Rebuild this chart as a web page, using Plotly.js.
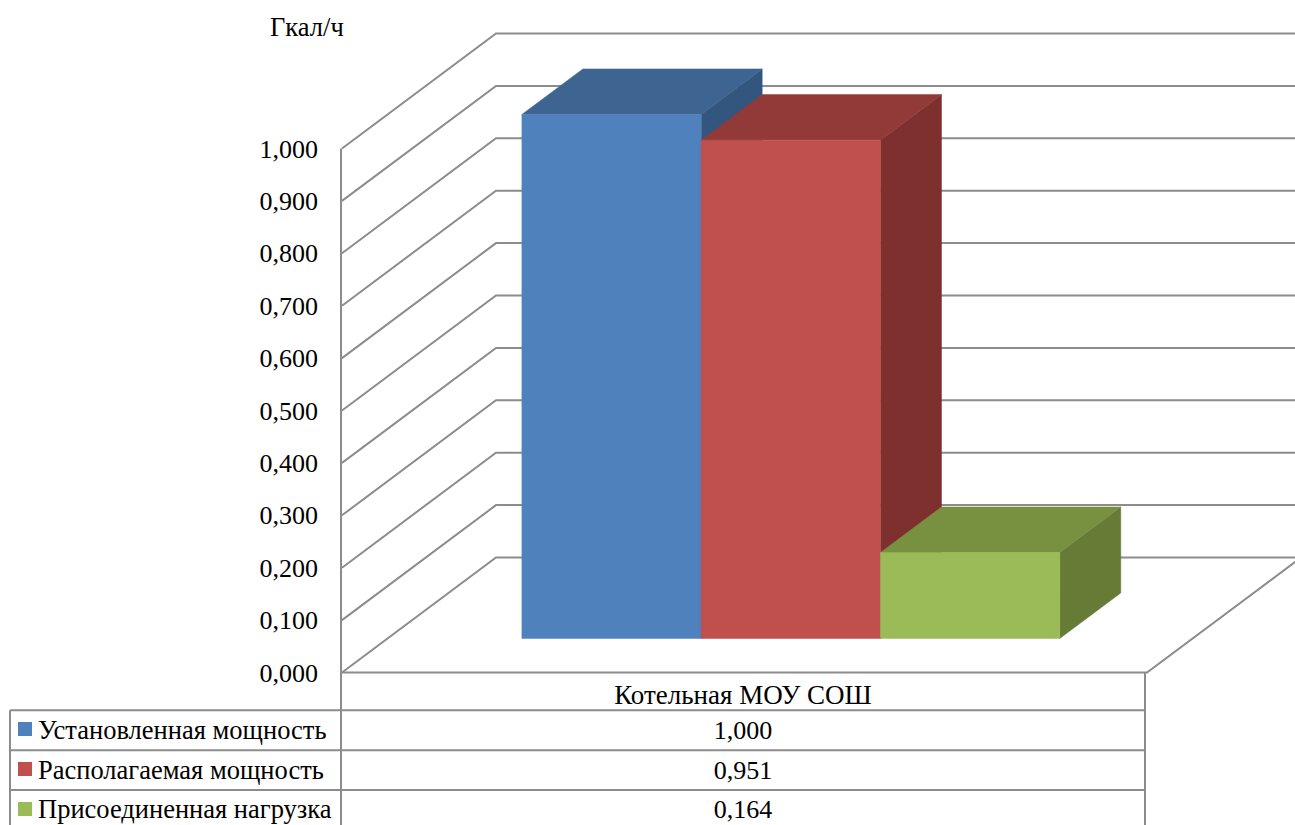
<!DOCTYPE html>
<html lang="ru">
<head>
<meta charset="utf-8">
<script src="https://cdn.plot.ly/plotly-3.0.1.min.js"></script>
<style>html,body{margin:0;padding:0;background:#fff}#chart{width:1295px;height:825px}</style>
</head>
<body>
<div id="chart"></div>
<script>
// Chart content
const category = 'Котельная МОУ СОШ';
const unitLabel = 'Гкал/ч';
const seriesNames = ['Установленная мощность', 'Располагаемая мощность', 'Присоединенная нагрузка'];
const seriesValues = [1.000, 0.951, 0.164];
const frontColors = ['#4F81BD', '#C0504D', '#9BBB59'];
const topColors = ['#3E6491', '#923A38', '#779141'];
const sideColors = ['#33567F', '#7D302E', '#657B36'];
const tickValues = [0, 0.1, 0.2, 0.3, 0.4, 0.5, 0.6, 0.7, 0.8, 0.9, 1.0];

// Oblique projection of the box: horizontal position, value and depth (0 = front, 1 = back)
const W = 1295, H = 825;
const zeroPx = 672.5, unitPx = 524;
const wallLeft = 342, wallRight = 1147;
const depthDx = 154, depthDy = 115;
const barStart = 476.3, barWidth = 179.3;
const barDepthFront = 0.296, barDepthBack = 0.692;

const valueAtPx = px => (zeroPx - px) / unitPx;
const project = (x, value, depth) => [x + depth * depthDx, value + depth * depthDy / unitPx];
const fmt = v => v.toFixed(3).replace('.', ',');

const traces = [];
const GRID = '#8C8C8C';
function polyline(points, width) {
  traces.push({
    type: 'scatter', mode: 'lines', showlegend: false, hoverinfo: 'skip',
    x: points.map(p => p[0]), y: points.map(p => p[1]),
    line: {color: GRID, width: width || 2}
  });
}
function face(points, color) {
  const closed = points.concat([points[0]]);
  traces.push({
    type: 'scatter', mode: 'lines', showlegend: false, hoverinfo: 'skip', fill: 'toself',
    fillcolor: color, x: closed.map(p => p[0]), y: closed.map(p => p[1]),
    line: {color: color, width: 0.5}
  });
}

// Side wall and back wall gridlines
tickValues.forEach(v => {
  polyline([project(wallLeft, v, 0), project(wallLeft, v, 1), project(wallRight, v, 1)]);
});
// Floor outline
polyline([project(wallLeft, 0, 0), project(wallRight, 0, 0), project(wallRight, 0, 1)]);

// Bars, drawn left to right so each one covers the side of the previous
seriesValues.forEach((v, i) => {
  const x0 = barStart + i * barWidth, x1 = x0 + barWidth;
  const a = barDepthFront, b = barDepthBack;
  face([project(x1, 0, a), project(x1, 0, b), project(x1, v, b), project(x1, v, a)], sideColors[i]);
  face([project(x0, v, a), project(x1, v, a), project(x1, v, b), project(x0, v, b)], topColors[i]);
  face([project(x0, 0, a), project(x1, 0, a), project(x1, v, a), project(x0, v, a)], frontColors[i]);
});

// Data table beneath the plot
const rowLines = [710.3, 750.3, 790];
const keyCentres = [729, 769, 809];
const rowCentres = [732.5, 772.5, 811.5];
const tableLeft = 10, tableSplit = 341, tableRight = 1145;
polyline([[tableSplit, 1], [tableSplit, valueAtPx(H + 5)]]);
polyline([[tableRight, valueAtPx(zeroPx)], [tableRight, valueAtPx(H + 5)]]);
polyline([[tableLeft, valueAtPx(rowLines[0])], [tableLeft, valueAtPx(H + 5)]]);
rowLines.forEach(px => polyline([[tableLeft, valueAtPx(px)], [tableRight, valueAtPx(px)]]));

const serif = '"Liberation Serif", "Times New Roman", serif';
const tableMid = (tableSplit + tableRight) / 2;

// Legend keys in the table's first column
traces.push({
  type: 'scatter', mode: 'markers', showlegend: false, hoverinfo: 'skip',
  x: seriesNames.map(() => 25), y: keyCentres.map(valueAtPx),
  marker: {symbol: 'square', size: 14, color: frontColors, line: {width: 0}}
});
// Series names
traces.push({
  type: 'scatter', mode: 'text', showlegend: false, hoverinfo: 'skip',
  x: seriesNames.map(() => 38), y: rowCentres.map(valueAtPx),
  text: seriesNames, textposition: 'middle right',
  textfont: {family: serif, size: 26.5, color: '#000'}
});
// Category heading
traces.push({
  type: 'scatter', mode: 'text', showlegend: false, hoverinfo: 'skip',
  x: [tableMid], y: [valueAtPx(697.5)],
  text: [category], textposition: 'middle center',
  textfont: {family: serif, size: 27, color: '#000'}
});
// Stated values
traces.push({
  type: 'scatter', mode: 'text', showlegend: false, hoverinfo: 'skip',
  x: seriesValues.map(() => tableMid), y: rowCentres.map(valueAtPx),
  text: seriesValues.map(fmt), textposition: 'middle center',
  textfont: {family: serif, size: 26, color: '#000'}
});

const layout = {
  width: W, height: H,
  margin: {l: 0, r: 0, t: 0, b: 0},
  paper_bgcolor: '#fff', plot_bgcolor: '#fff',
  showlegend: false, hovermode: false,
  separators: ', ',
  font: {family: serif, color: '#000', size: 26},
  xaxis: {
    range: [0, W], visible: false, fixedrange: true, domain: [0, 1]
  },
  yaxis: {
    range: [valueAtPx(H), valueAtPx(0)], fixedrange: true,
    anchor: 'free', position: wallLeft / W, side: 'left',
    tickmode: 'array', tickvals: tickValues, tickformat: '.3f',
    ticks: '', ticklabelstandoff: 24,
    showgrid: false, zeroline: false, showline: false,
    tickfont: {family: serif, size: 26, color: '#000'}
  },
  annotations: [{
    text: unitLabel, xref: 'x', yref: 'y', x: 306.5, y: valueAtPx(27),
    showarrow: false, xanchor: 'center', yanchor: 'middle',
    font: {family: serif, size: 26.5, color: '#000'}
  }]
};

Plotly.newPlot('chart', traces, layout, {displayModeBar: false, staticPlot: true});
</script>
</body>
</html>
